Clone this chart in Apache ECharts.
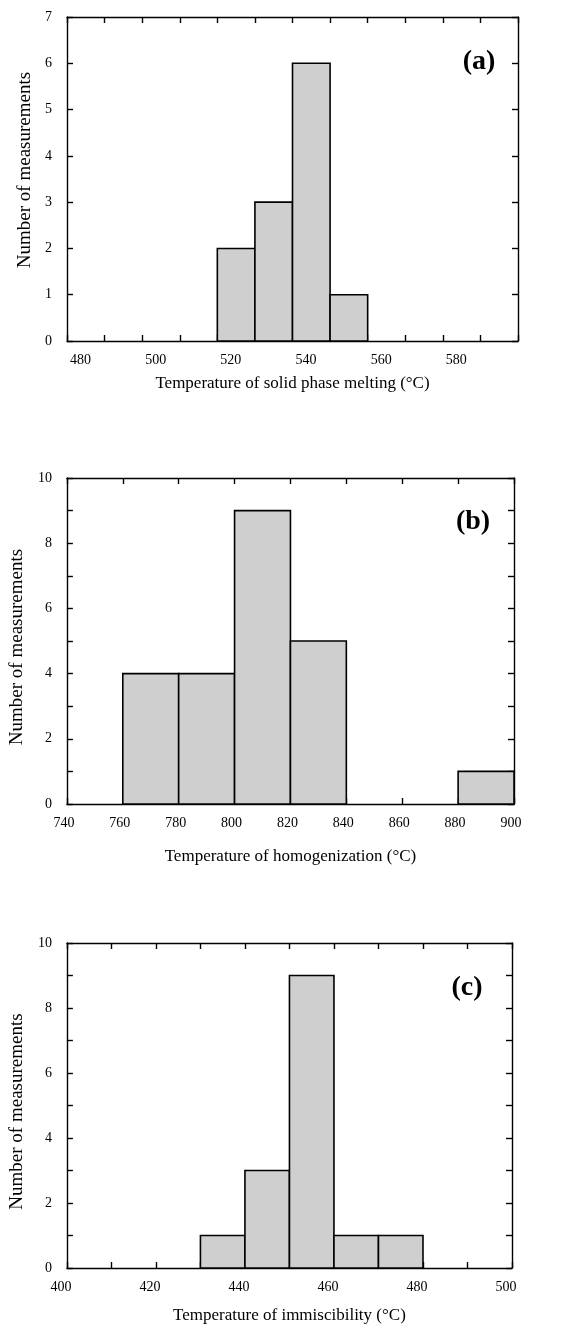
<!DOCTYPE html>
<html>
<head>
<meta charset="utf-8">
<script src="https://cdn.jsdelivr.net/npm/echarts@6/dist/echarts.min.js"></script>
<style>
html,body{margin:0;padding:0;background:#fff;}
#chart{width:582px;height:1331px;}
</style>
</head>
<body>
<div id="chart"></div>
<script>
// Panel (a): solid phase melting
const binStartA = [520, 530, 540, 550];
const countA = [2, 3, 6, 1];
const binWidthA = 10;
// Panel (b): homogenization
const binStartB = [760, 780, 800, 820, 840, 860, 880];
const countB = [4, 4, 9, 5, 0, 0, 1];
const binWidthB = 20;
// Panel (c): immiscibility
const binStartC = [430, 440, 450, 460, 470];
const countC = [1, 3, 9, 1, 1];
const binWidthC = 10;

const xTitles = ['Temperature of solid phase melting (°C)', 'Temperature of homogenization (°C)', 'Temperature of immiscibility (°C)'];
const yTitle = 'Number of measurements';
const panelTags = ['(a)', '(b)', '(c)'];

const FONT = 'Liberation Serif';
const chart = echarts.init(document.getElementById('chart'), null, {renderer: 'canvas'});

const grids = [
  {left: 67, top: 17, width: 451, height: 324},
  {left: 60, top: 478, width: 454, height: 326},
  {left: 58, top: 943, width: 454, height: 325}
];
const xCfg = [
  {min: 480, max: 600, interval: 10, fmt: v => (v % 20 === 0 && v < 600) ? String(v) : '', pad: [0, 0, 0, 27], gap: 34},
  {min: 740, max: 900, interval: 20, fmt: v => String(v), pad: [0, 6, 0, 0], gap: 44},
  {min: 400, max: 500, interval: 10, fmt: v => (v % 20 === 0) ? String(v) : '', pad: [0, 12, 0, 0], gap: 39}
];
const yCfg = [
  {min: 0, max: 7, interval: 1, fmt: v => String(v), gap: 30, pad: [0, 0, 0, 18]},
  {min: 0, max: 10, interval: 1, fmt: v => (v % 2 === 0) ? String(v) : '', gap: 31, pad: [0, 12, 0, 0]},
  {min: 0, max: 10, interval: 1, fmt: v => (v % 2 === 0) ? String(v) : '', gap: 31, pad: [0, 12, 0, 0]}
];
const datasets = [
  binStartA.map((s, i) => [s, s + binWidthA, countA[i]]),
  binStartB.map((s, i) => [s, s + binWidthB, countB[i]]),
  binStartC.map((s, i) => [s, s + binWidthC, countC[i]])
];

const lineStyle = {color: '#000', width: 1.4};
const xAxes = [], yAxes = [], series = [], graphics = [];
grids.forEach((g, i) => {
  const xc = xCfg[i], yc = yCfg[i];
  xAxes.push({
    type: 'value', gridIndex: i, position: 'bottom', min: xc.min, max: xc.max, interval: xc.interval,
    name: xTitles[i], nameLocation: 'middle', nameGap: xc.gap,
    nameTextStyle: {fontFamily: FONT, fontSize: 17, color: '#000'},
    axisLine: {show: true, onZero: false, lineStyle},
    axisTick: {show: true, inside: true, length: 6, lineStyle},
    axisLabel: {formatter: xc.fmt, fontFamily: FONT, fontSize: 14, color: '#000', margin: 12, padding: xc.pad, showMinLabel: true, showMaxLabel: true},
    splitLine: {show: false}
  });
  xAxes.push({
    type: 'value', gridIndex: i, position: 'top', min: xc.min, max: xc.max, interval: xc.interval,
    axisLine: {show: true, onZero: false, lineStyle},
    axisTick: {show: true, inside: true, length: 6, lineStyle},
    axisLabel: {show: false}, splitLine: {show: false}
  });
  yAxes.push({
    type: 'value', gridIndex: i, position: 'left', min: yc.min, max: yc.max, interval: yc.interval,
    name: yTitle, nameLocation: 'middle', nameGap: yc.gap, nameRotate: 90,
    nameTextStyle: {fontFamily: FONT, fontSize: 19, color: '#000', padding: yc.pad},
    axisLine: {show: true, onZero: false, lineStyle},
    axisTick: {show: true, inside: true, length: 6, lineStyle},
    axisLabel: {formatter: yc.fmt, fontFamily: FONT, fontSize: 14, color: '#000', margin: 15, showMinLabel: true, showMaxLabel: true},
    splitLine: {show: false}
  });
  yAxes.push({
    type: 'value', gridIndex: i, position: 'right', min: yc.min, max: yc.max, interval: yc.interval,
    axisLine: {show: true, onZero: false, lineStyle},
    axisTick: {show: true, inside: true, length: 6, lineStyle},
    axisLabel: {show: false}, splitLine: {show: false}
  });
  series.push({
    type: 'custom', xAxisIndex: i * 2, yAxisIndex: i * 2,
    data: datasets[i],
    renderItem: function (params, api) {
      const x0 = api.value(0), x1 = api.value(1), y = api.value(2);
      if (!y) return null;
      const p0 = api.coord([x0, y]);
      const p1 = api.coord([x1, 0]);
      return {
        type: 'rect',
        shape: {x: p0[0], y: p0[1], width: p1[0] - p0[0], height: p1[1] - p0[1]},
        style: {fill: '#cfcfcf', stroke: '#000', lineWidth: 1.6}
      };
    },
    z: 1
  });
});
const tagPos = [[479, 62], [473, 522], [467, 988]];
panelTags.forEach((t, i) => {
  graphics.push({
    type: 'text', x: tagPos[i][0], y: tagPos[i][1], z: 10,
    style: {text: t, fontFamily: FONT, fontSize: 28, fontWeight: 'bold', fill: '#000', align: 'center', verticalAlign: 'middle'}
  });
});

chart.setOption({
  animation: false,
  backgroundColor: '#fff',
  grid: grids,
  xAxis: xAxes,
  yAxis: yAxes,
  series: series,
  graphic: graphics
});
</script>
</body>
</html>
